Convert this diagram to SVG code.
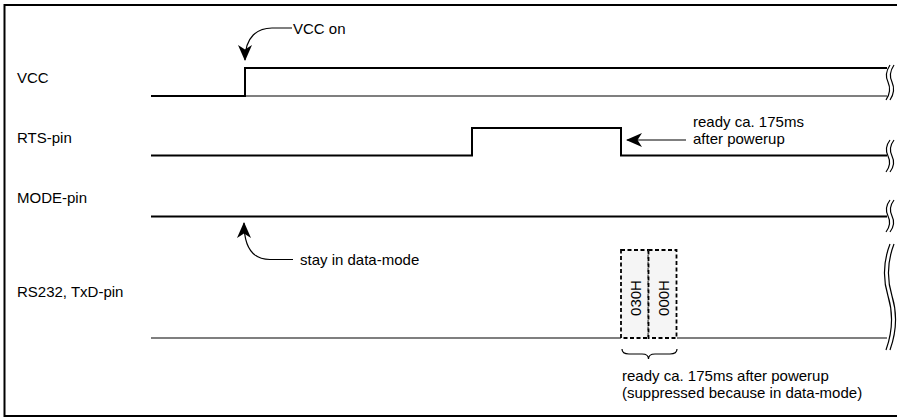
<svg xmlns="http://www.w3.org/2000/svg" width="901" height="417" viewBox="0 0 901 417">
<style>
text{font-family:"Liberation Sans",Arial,sans-serif;font-size:15px;fill:#000}
.thick{fill:none;stroke:#000;stroke-width:2}
.thin{fill:none;stroke:#000;stroke-width:1.2}
.brk{fill:none;stroke:#000;stroke-width:1.2}
.box{fill:#f5f5f5;stroke:#000;stroke-width:1.8;stroke-dasharray:4,2.5}
.arr{fill:none;stroke:#000;stroke-width:1.2}
</style>
<defs>
<marker id="ah2" viewBox="0 0 16 14" refX="15" refY="7" markerWidth="16" markerHeight="14" markerUnits="userSpaceOnUse" orient="auto">
<path d="M0,0 L16,7 L0,14 L4.5,7 z" fill="#000"/>
</marker>
</defs>
<path d="M897,5 H4.5 V416 H897" fill="none" stroke="#000" stroke-width="2"/>
<g id="vcc">
<text x="17" y="83">VCC</text>
<path class="thick" d="M151,96 H245 V68 H887"/>
<path class="thin" d="M245,96 H887"/>
<path class="brk" d="M890,65 Q884,74 888,82 Q892,91 886,100 M894,65 Q888,74 892,82 Q896,91 890,100"/>
</g>
<g id="rts">
<text x="17" y="143">RTS-pin</text>
<path class="thick" d="M151,155.5 H472 V128 H621 V155.5 H887"/>
<path class="brk" d="M890,140 Q884,148 888,156 Q892,164 886,172 M894,140 Q888,148 892,156 Q896,164 890,172"/>
</g>
<g id="mode">
<text x="17" y="203">MODE-pin</text>
<path class="thick" d="M151,216.5 H887"/>
<path class="brk" d="M890,200 Q884,208 888,216 Q892,224 886,232 M894,200 Q888,208 892,216 Q896,224 890,232"/>
</g>
<g id="txd">
<text x="17" y="297">RS232, TxD-pin</text>
<path class="thin" d="M151,338 H621 M677,338 H887"/>
<path class="brk" d="M890,244 Q880,270 888,296 Q896,322 886,350 M894,244 Q884,270 892,296 Q900,322 890,350"/>
</g>
<g id="byte030">
<rect class="box" x="621" y="250" width="27.5" height="88"/>
<text transform="translate(641,298) rotate(-90)" text-anchor="middle">030H</text>
</g>
<g id="byte000">
<rect class="box" x="648.5" y="250" width="28" height="88"/>
<text transform="translate(669,298) rotate(-90)" text-anchor="middle">000H</text>
</g>
<g id="brace">
<path class="arr" d="M622,349 Q622,354 629,354 L642,354 Q648.5,354 648.5,359 Q648.5,354 655,354 L670,354 Q677,354 677,349"/>
<text x="622" y="381">ready ca. 175ms after powerup</text>
<text x="622" y="398">(suppressed because in data-mode)</text>
</g>
<g id="connectors">
<path class="arr" d="M292,28 L272,28 C258,28 245,36 245,60" marker-end="url(#ah2)"/>
<path class="arr" d="M686,140 L627,140" marker-end="url(#ah2)"/>
<path class="arr" d="M293,259.5 L270,259.5 C256,259.5 244,252 244,223" marker-end="url(#ah2)"/>
</g>
<g id="notes">
<text x="293" y="34">VCC on</text>
<text x="693" y="127">ready ca. 175ms</text>
<text x="693" y="144">after powerup</text>
<text x="300" y="265">stay in data-mode</text>
</g>
</svg>
